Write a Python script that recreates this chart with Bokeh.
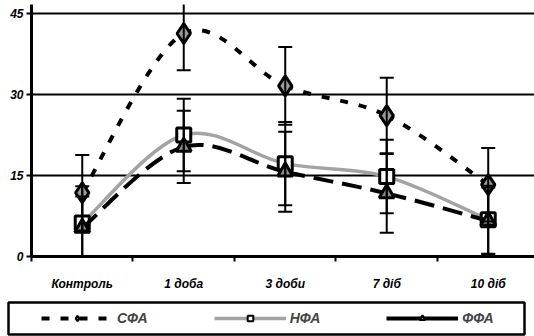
import numpy as np
from bokeh.plotting import figure
from bokeh.layouts import column
from bokeh.models import (ColumnDataSource, Whisker, TeeHead, FixedTicker, Legend,
                          LegendItem, Range1d)
from bokeh.embed import file_html
from bokeh.resources import INLINE

categories = ["Контроль", "1 доба", "3 доби", "7 діб", "10 діб"]
sfa = [11.8, 41.3, 31.6, 26.1, 13.3]
sfa_err = [7.0, 6.8, 7.2, 7.0, 6.8]
nfa = [6.2, 22.5, 17.2, 14.8, 6.8]
nfa_err = [6.8, 6.7, 7.7, 6.8, 6.3]
ffa = [5.3, 20.3, 15.7, 11.7, 6.6]
ffa_err = [5.8, 6.7, 7.4, 7.3, 6.2]
y_ticks = [0, 15, 30, 45]
series_names = ["СФА", "НФА", "ФФА"]

xs = list(range(len(categories)))
FONT = "Liberation Sans"

p = figure(width=534, height=296, output_backend="svg", toolbar_location=None,
           x_range=Range1d(-0.5, 4.456), y_range=Range1d(0, 46.67),
           min_border_left=31, min_border_top=4, min_border_right=0,
           min_border_bottom=40)
p.outline_line_color = None
p.background_fill_color = "white"
p.border_fill_color = "white"

# axes
p.xaxis.ticker = FixedTicker(ticks=xs, minor_ticks=[-0.5, 0.5, 1.5, 2.5, 3.5])
p.xaxis.major_label_overrides = {i: c for i, c in enumerate(categories)}
p.xaxis.major_tick_out = 0
p.xaxis.major_tick_in = 0
p.xaxis.minor_tick_out = 5
p.xaxis.minor_tick_in = 0
p.xaxis.minor_tick_line_width = 2
p.xaxis.minor_tick_line_color = "black"
p.xaxis.axis_line_width = 3
p.xaxis.axis_line_color = "black"
p.xaxis.major_label_standoff = 15
p.yaxis.ticker = FixedTicker(ticks=y_ticks)
p.yaxis.minor_tick_line_color = None
p.yaxis.major_tick_out = 5
p.yaxis.major_tick_in = 0
p.yaxis.major_tick_line_width = 2
p.yaxis.axis_line_width = 3
p.yaxis.axis_line_color = "black"
p.yaxis.major_label_standoff = 3
for ax in (p.xaxis, p.yaxis):
    ax.major_label_text_font = FONT
    ax.major_label_text_font_style = "bold italic"
    ax.major_label_text_font_size = "12px"
    ax.major_label_text_color = "black"
p.xgrid.grid_line_color = None
p.ygrid.ticker = FixedTicker(ticks=y_ticks)
p.ygrid.grid_line_color = "black"
p.ygrid.grid_line_width = 2
p.ygrid.grid_line_alpha = 1


def smooth(xv, yv):
    n = len(xv)
    out = dict(x0=[], y0=[], x1=[], y1=[], cx0=[], cy0=[], cx1=[], cy1=[])
    for i in range(n - 1):
        xp, yp = (xv[i - 1], yv[i - 1]) if i > 0 else (xv[i], yv[i])
        xn, yn = (xv[i + 2], yv[i + 2]) if i + 2 < n else (xv[i + 1], yv[i + 1])
        out["x0"].append(xv[i]); out["y0"].append(yv[i])
        out["x1"].append(xv[i + 1]); out["y1"].append(yv[i + 1])
        out["cx0"].append(xv[i] + (xv[i + 1] - xp) / 6)
        out["cy0"].append(yv[i] + (yv[i + 1] - yp) / 6)
        out["cx1"].append(xv[i + 1] - (xn - xv[i]) / 6)
        out["cy1"].append(yv[i + 1] - (yn - yv[i]) / 6)
    return ColumnDataSource(out)


series = [
    (sfa, sfa_err, dict(line_color="black", line_width=4, line_dash="8 11"),
     dict(marker="diamond", size=20, fill_color="#9a9a9a", line_color="black", line_width=3)),
    (nfa, nfa_err, dict(line_color="#a3a3a3", line_width=3.5, line_dash="solid"),
     dict(marker="square", size=14, fill_color="white", line_color="black", line_width=3)),
    (ffa, ffa_err, dict(line_color="black", line_width=4, line_dash="20 9"),
     dict(marker="triangle", size=15, fill_color="#8c8c8c", line_color="black", line_width=3)),
]

# error bars first
for vals, errs, lstyle, mstyle in series:
    src = ColumnDataSource(dict(x=xs, upper=[v + e for v, e in zip(vals, errs)],
                                lower=[v - e for v, e in zip(vals, errs)]))
    w = Whisker(base="x", upper="upper", lower="lower", source=src,
                line_color="black", line_width=2, level="glyph",
                upper_head=TeeHead(size=14, line_width=2, line_color="black"),
                lower_head=TeeHead(size=14, line_width=2, line_color="black"))
    p.add_layout(w)

for vals, errs, lstyle, mstyle in series:
    bsrc = smooth(xs, vals)
    p.bezier(x0="x0", y0="y0", x1="x1", y1="y1", cx0="cx0", cy0="cy0",
             cx1="cx1", cy1="cy1", source=bsrc, **lstyle)
    p.scatter(xs, vals, **mstyle)

# legend panel
LH = 40
lf = figure(width=534, height=LH, output_backend="svg", toolbar_location=None,
            x_range=Range1d(0, 534), y_range=Range1d(0, LH),
            x_axis_location=None, y_axis_location=None,
            min_border=0, min_border_left=0, min_border_right=0,
            min_border_top=0, min_border_bottom=0)
lf.frame_align = False
lf.grid.visible = False
lf.outline_line_color = None
lf.border_fill_color = "white"
lf.quad(left=[8], right=[524], bottom=[2], top=[34], fill_color="white",
        line_color="black", line_width=2.5)
items = []
for (vals, errs, lstyle, mstyle), name in zip(series, series_names):
    ls = dict(lstyle)
    if name == "ФФА":
        ls["line_dash"] = "solid"
    lr = lf.line(xs, vals, visible=False, **ls)
    ms = dict(mstyle)
    ms["size"] = 8
    ms["line_width"] = 2
    mr = lf.scatter(xs, vals, visible=False, **ms)
    items.append(LegendItem(label=name, renderers=[lr, mr]))

legend = Legend(items=items, orientation="horizontal", location=(41, 10),
                border_line_color=None, background_fill_alpha=0,
                glyph_width=72, glyph_height=14, spacing=66, padding=0, margin=0,
                label_text_font=FONT, label_text_font_style="bold italic",
                label_text_font_size="14px", label_standoff=4)
lf.add_layout(legend, "center")

layout = column(p, lf, spacing=0)
open("out.html", "w").write(file_html(layout, INLINE))
